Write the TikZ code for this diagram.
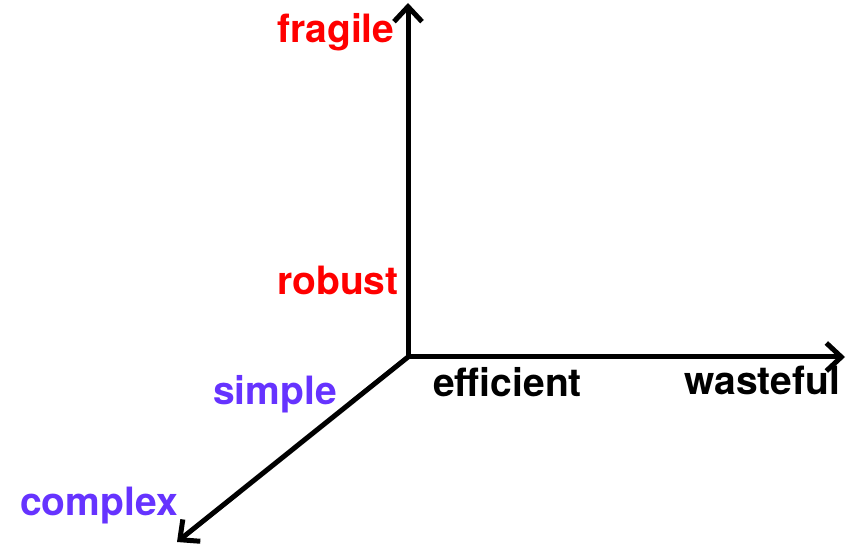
\documentclass[tikz,border=0pt]{standalone}
\usepackage{fontspec}
\setmainfont{TeX Gyre Heros}
\usepackage{tikz}
\usetikzlibrary{arrows.meta}
\definecolor{axred}{RGB}{255,0,0}
\definecolor{axpurple}{RGB}{102,51,255}

\begin{document}
\begin{tikzpicture}[
  x=1pt, y=-1pt,
  font=\fontsize{39}{43}\selectfont\bfseries,
  axis/.style={line width=5pt, black, -{Straight Barb[length=15pt, width=28pt]}},
  lab/.style={inner sep=0pt, anchor=base west},
]
\useasboundingbox (0,0) rectangle (852,545);
% axes
\coordinate (o) at (408,357);
\coordinate (up) at (408,3);
\coordinate (right) at (845,357);
\coordinate (down) at (177,542);
\draw[axis] (o) -- (up);
\draw[axis] (o) -- (right);
\draw[axis] (o) -- (down);
% labels
\node[lab, axred] (fragile) at (277,43) {fragile};
\node[lab, axred] (robust) at (277,295) {robust};
\node[lab, axpurple] (simple) at (213,405) {simple};
\node[lab, axpurple] (complex) at (20,515) {complex};
\node[lab] (efficient) at (433,397) {efficient};
\node[lab] (wasteful) at (684,395) {wasteful};
\end{tikzpicture}
\end{document}
